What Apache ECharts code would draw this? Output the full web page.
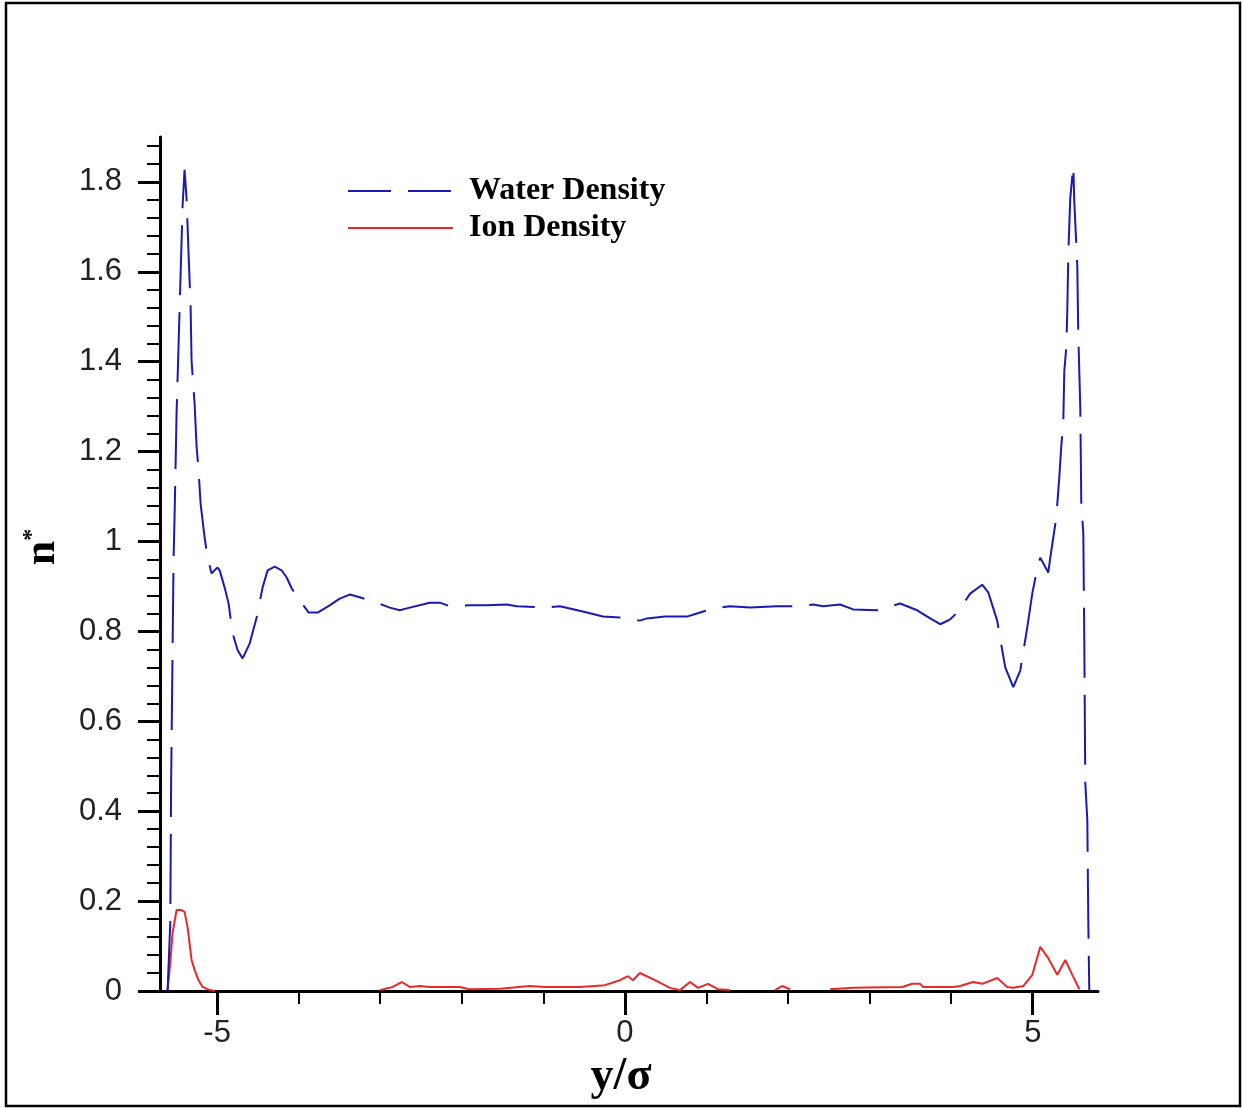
<!DOCTYPE html>
<html>
<head>
<meta charset="utf-8">
<script src="https://cdn.jsdelivr.net/npm/echarts@6/dist/echarts.min.js"></script>
<style>
html,body{margin:0;padding:0;background:#fff;}
#c{width:1242px;height:1108px;}
</style>
</head>
<body>
<div id="c"></div>
<script>
// ---- data ----
var waterX = [-5.607,-5.574,-5.564,-5.546,-5.534,-5.521,-5.497,-5.472,-5.448,-5.423,-5.399,-5.374,-5.350,-5.325,-5.313,-5.276,-5.252,-5.227,-5.202,-5.153,-5.117,-5.067,-5.031,-4.994,-4.969,-4.908,-4.859,-4.810,-4.748,-4.687,-4.601,-4.515,-4.442,-4.380,-4.294,-4.209,-4.147,-4.086,-3.988,-3.877,-3.767,-3.620,-3.497,-3.374,-3.252,-3.043,-2.883,-2.761,-2.638,-2.393,-2.270,-2.147,-1.902,-1.693,-1.448,-1.325,-0.957,-0.798,-0.675,-0.466,-0.270,-0.061,0.184,0.270,0.491,0.761,0.883,1.080,1.288,1.534,1.865,2.110,2.307,2.429,2.638,2.798,3.092,3.166,3.374,3.583,3.742,3.865,3.988,4.074,4.233,4.380,4.454,4.564,4.601,4.663,4.761,4.847,4.933,4.994,5.067,5.092,5.190,5.215,5.252,5.288,5.325,5.350,5.374,5.387,5.411,5.423,5.436,5.460,5.497,5.509,5.546,5.558,5.583,5.595,5.620,5.632,5.644,5.669,5.681,5.693];
var waterY = [0.000,0.151,0.453,0.758,0.958,1.058,1.284,1.440,1.591,1.747,1.827,1.762,1.642,1.524,1.402,1.307,1.213,1.158,1.084,1.009,0.964,0.929,0.936,0.942,0.936,0.898,0.862,0.796,0.758,0.740,0.773,0.831,0.898,0.936,0.944,0.936,0.920,0.896,0.869,0.842,0.842,0.858,0.873,0.882,0.876,0.864,0.853,0.847,0.853,0.864,0.864,0.856,0.858,0.858,0.860,0.856,0.853,0.856,0.851,0.842,0.833,0.831,0.824,0.829,0.833,0.833,0.840,0.851,0.856,0.853,0.856,0.856,0.860,0.856,0.860,0.849,0.847,0.851,0.862,0.847,0.829,0.816,0.827,0.842,0.884,0.904,0.887,0.824,0.784,0.720,0.676,0.713,0.809,0.884,0.951,0.964,0.931,0.964,1.009,1.053,1.142,1.213,1.262,1.380,1.431,1.509,1.640,1.764,1.836,1.758,1.613,1.464,1.296,1.087,1.018,0.780,0.464,0.380,0.153,0.002];

var ionX = [-5.607,-5.571,-5.546,-5.497,-5.436,-5.399,-5.362,-5.313,-5.276,-5.227,-5.178,-5.117,-5.030,-4.0,-3.006,-2.847,-2.736,-2.638,-2.515,-2.393,-2.025,-1.902,-1.534,-1.166,-0.982,-0.552,-0.245,-0.061,0.037,0.098,0.184,0.368,0.552,0.675,0.798,0.896,1.018,1.141,1.288,1.6,1.840,1.926,2.025,2.3,2.515,2.798,3.399,3.521,3.620,3.656,4.025,4.110,4.270,4.380,4.564,4.687,4.761,4.883,4.994,5.092,5.190,5.301,5.399,5.485,5.571];
var ionY = [0.002,0.069,0.129,0.180,0.180,0.176,0.142,0.069,0.047,0.024,0.009,0.004,0.000,null,0.002,0.009,0.020,0.009,0.011,0.009,0.009,0.004,0.005,0.011,0.009,0.009,0.013,0.024,0.033,0.024,0.040,0.024,0.007,0.002,0.020,0.007,0.016,0.004,0.002,null,0.002,0.011,0.004,null,0.004,0.007,0.009,0.016,0.016,0.009,0.009,0.011,0.020,0.016,0.029,0.009,0.007,0.011,0.036,0.098,0.073,0.036,0.069,0.036,0.004];

var yMajorTicks = [0,0.2,0.4,0.6,0.8,1.0,1.2,1.4,1.6,1.8];
var yMinorTicks = [];
for (var i = 0; i <= 47; i++) yMinorTicks.push(+(i*0.04).toFixed(2));
var xMajorTicks = [-5,0,5];
var xMinorTicks = [-5,-4,-3,-2,-1,0,1,2,3,4,5];

var seriesNames = ['Water Density','Ion Density'];

function zip(xs, ys){ return xs.map(function(x,i){ return [x, ys[i]]; }); }

var chart = echarts.init(document.getElementById('c'), null, {renderer:'canvas'});
var labelFont = {fontFamily:'"Liberation Sans", Arial, sans-serif', fontSize:31, color:'#222'};
var serif = '"Liberation Serif","Times New Roman",serif';
var option = {
  backgroundColor:'#fff',
  animation:false,
  grid:{left:160, top:137, right:144, bottom:117, containLabel:false, outerBoundsMode:'none'},
  graphic:[{type:'rect', shape:{x:6, y:3, width:1234, height:1103}, style:{fill:'none', stroke:'#000', lineWidth:2.5}, z:100}],
  legend:{
    orient:'vertical', left:342, top:170, itemWidth:105, itemHeight:12, itemGap:5,
    textStyle:{fontFamily:serif, fontWeight:'bold', fontSize:32, color:'#000', padding:[0,0,0,11]},
    data:[
      {name:seriesNames[0], lineStyle:{type:[43,17], width:2, color:'#1c1cb4'}, itemStyle:{opacity:0}},
      {name:seriesNames[1], lineStyle:{type:'solid', width:2, color:'#e8282a'}, itemStyle:{opacity:0}}
    ]
  },
  xAxis:[{
    type:'value', min:-5.7, max:5.8, position:'bottom',
    axisLine:{onZero:false, lineStyle:{color:'#000', width:3}},
    axisTick:{length:24, lineStyle:{color:'#000', width:3}, customValues:xMajorTicks},
    axisLabel:Object.assign({margin:27, customValues:xMajorTicks, formatter:function(v){return String(v);}}, labelFont),
    splitLine:{show:false},
    name:'y/σ', nameLocation:'middle', nameGap:56,
    nameTextStyle:{fontFamily:serif, fontWeight:'bold', fontSize:46, color:'#000', padding:[0,16,0,0]}
  },{
    type:'value', min:-5.7, max:5.8, position:'bottom',
    axisLine:{show:false, onZero:false},
    axisTick:{length:13, lineStyle:{color:'#000', width:2}, customValues:xMinorTicks},
    axisLabel:{show:false}, splitLine:{show:false}
  }],
  yAxis:[{
    type:'value', min:0, max:1.9, position:'left',
    axisLine:{onZero:false, lineStyle:{color:'#000', width:3}},
    axisTick:{length:22, lineStyle:{color:'#000', width:3}, customValues:yMajorTicks},
    axisLabel:Object.assign({margin:38, customValues:yMajorTicks, formatter:function(v){return String(Math.round(v*10)/10);}}, labelFont),
    splitLine:{show:false},
    name:'{n|n}{s|*}', nameLocation:'middle', nameRotate:90, nameGap:94,
    nameTextStyle:{
      padding:[0,0,0,34],
      rich:{
        n:{fontFamily:serif, fontWeight:'bold', fontSize:44, color:'#000', lineHeight:46},
        s:{fontFamily:serif, fontWeight:'bold', fontSize:24, color:'#000', verticalAlign:'top', lineHeight:46, padding:[0,0,18,0]}
      }
    }
  },{
    type:'value', min:0, max:1.9, position:'left',
    axisLine:{show:false, onZero:false},
    axisTick:{length:13, lineStyle:{color:'#000', width:2}, customValues:yMinorTicks},
    axisLabel:{show:false}, splitLine:{show:false}
  }],
  series:[
    {name:seriesNames[0], type:'line', xAxisIndex:0, yAxisIndex:0, data:zip(waterX, waterY),
     showSymbol:false, symbol:'none', lineStyle:{color:'#1a1ab0', width:2, type:[70,17]}, itemStyle:{color:'#1a1ab0'}, z:3},
    {name:seriesNames[1], type:'line', xAxisIndex:0, yAxisIndex:0, data:zip(ionX, ionY),
     showSymbol:false, symbol:'none', connectNulls:false, lineStyle:{color:'#e8282a', width:2}, itemStyle:{color:'#e8282a'}, z:2}
  ]
};
chart.setOption(option);
</script>
</body>
</html>
